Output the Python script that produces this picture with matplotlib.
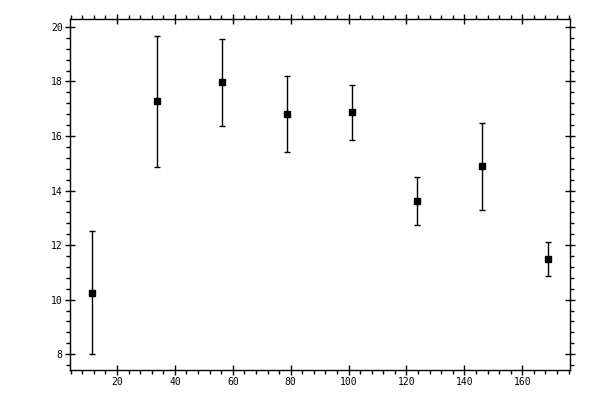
import numpy as np
import matplotlib
matplotlib.use("Agg")
import matplotlib.pyplot as plt
from matplotlib.ticker import MultipleLocator

# --- data ---
x_vals = [11.25, 33.75, 56.25, 78.75, 101.25, 123.75, 146.25, 168.75]
y_vals = [10.25, 17.28, 17.97, 16.80, 16.87, 13.61, 14.89, 11.48]
y_err = [2.25, 2.40, 1.60, 1.40, 1.00, 0.88, 1.59, 0.62]

fig = plt.figure(figsize=(6, 4), dpi=100)
ax = fig.add_axes([70 / 600, 30 / 400, 500 / 600, 350.7 / 400])

ax.errorbar(x_vals, y_vals, yerr=y_err, fmt='s', color='black',
            markersize=5, elinewidth=1, capsize=2, capthick=1)

ax.set_xlim(3.75, 176.5)
ax.set_ylim(7.42, 20.28)

ax.xaxis.set_major_locator(MultipleLocator(20))
ax.xaxis.set_minor_locator(MultipleLocator(4))
ax.yaxis.set_major_locator(MultipleLocator(2))
ax.yaxis.set_minor_locator(MultipleLocator(0.4))

ax.tick_params(which='major', direction='inout', length=6.5, width=1,
               top=True, right=True, labelsize=7, pad=2)
ax.tick_params(which='minor', direction='out', length=3, width=1,
               top=True, right=True)
for lab in ax.get_xticklabels() + ax.get_yticklabels():
    lab.set_family('DejaVu Sans Mono')

# hide the 0 / 180 labels that fall outside the drawn range
ax.set_xticks([20, 40, 60, 80, 100, 120, 140, 160])
ax.set_yticks([8, 10, 12, 14, 16, 18, 20])
ax.set_xticklabels(['20', '40', '60', '80', '100', '120', '140', '160'],
                   family='DejaVu Sans Mono', fontsize=7)
ax.set_yticklabels(['8', '10', '12', '14', '16', '18', '20'],
                   family='DejaVu Sans Mono', fontsize=7)

for sp in ax.spines.values():
    sp.set_linewidth(1)

fig.savefig('out.png', dpi=100)
